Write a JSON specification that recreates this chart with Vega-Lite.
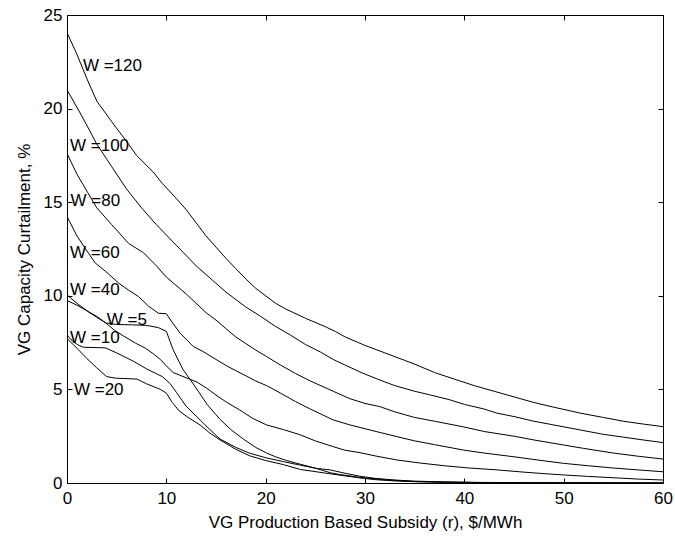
{
  "$schema": "https://vega.github.io/schema/vega-lite/v6.json",
  "width": 596,
  "height": 468,
  "autosize": {"type": "none"},
  "padding": {"left": 67, "top": 15, "right": 12, "bottom": 57},
  "background": "white",
  "config": {
    "view": {"stroke": "black", "strokeWidth": 1},
    "font": "Liberation Sans",
    "axis": {
      "grid": false,
      "domainColor": "black",
      "tickColor": "black",
      "labelColor": "black",
      "titleColor": "black",
      "labelFont": "Liberation Sans",
      "titleFont": "Liberation Sans",
      "labelFontSize": 17,
      "titleFontSize": 17,
      "titleFontWeight": "normal",
      "labelFlush": false,
      "tickSize": -5
    }
  },
  "datasets": {
    "curves": [
      {"W": "120", "x": 0, "y": 24.06}, {"W": "120", "x": 1, "y": 22.9}, {"W": "120", "x": 2, "y": 21.6}, {"W": "120", "x": 3, "y": 20.4}, {"W": "120", "x": 4.5, "y": 19.3}, {"W": "120", "x": 6.2, "y": 18.1}, {"W": "120", "x": 7, "y": 17.5}, {"W": "120", "x": 8.7, "y": 16.6}, {"W": "120", "x": 9.6, "y": 16.0}, {"W": "120", "x": 11, "y": 15.2}, {"W": "120", "x": 12, "y": 14.6}, {"W": "120", "x": 13, "y": 13.9}, {"W": "120", "x": 14, "y": 13.2}, {"W": "120", "x": 15, "y": 12.6}, {"W": "120", "x": 16, "y": 12.0}, {"W": "120", "x": 17, "y": 11.45}, {"W": "120", "x": 18, "y": 10.9}, {"W": "120", "x": 19, "y": 10.4}, {"W": "120", "x": 20, "y": 10.0}, {"W": "120", "x": 21, "y": 9.6}, {"W": "120", "x": 22, "y": 9.3}, {"W": "120", "x": 24, "y": 8.8}, {"W": "120", "x": 26, "y": 8.35}, {"W": "120", "x": 27, "y": 8.1}, {"W": "120", "x": 28, "y": 7.8}, {"W": "120", "x": 30, "y": 7.35}, {"W": "120", "x": 32, "y": 6.95}, {"W": "120", "x": 34, "y": 6.55}, {"W": "120", "x": 35, "y": 6.35}, {"W": "120", "x": 37, "y": 5.9}, {"W": "120", "x": 39, "y": 5.55}, {"W": "120", "x": 41, "y": 5.2}, {"W": "120", "x": 43, "y": 4.9}, {"W": "120", "x": 45, "y": 4.6}, {"W": "120", "x": 47, "y": 4.3}, {"W": "120", "x": 49, "y": 4.05}, {"W": "120", "x": 51.7, "y": 3.73}, {"W": "120", "x": 54, "y": 3.5}, {"W": "120", "x": 56, "y": 3.3}, {"W": "120", "x": 58, "y": 3.15}, {"W": "120", "x": 60, "y": 3.01},
      {"W": "100", "x": 0, "y": 21.0}, {"W": "100", "x": 1.5, "y": 19.6}, {"W": "100", "x": 3, "y": 18.1}, {"W": "100", "x": 4.5, "y": 16.9}, {"W": "100", "x": 6, "y": 15.7}, {"W": "100", "x": 7.5, "y": 14.7}, {"W": "100", "x": 9, "y": 13.8}, {"W": "100", "x": 11, "y": 12.7}, {"W": "100", "x": 13, "y": 11.6}, {"W": "100", "x": 14.5, "y": 10.9}, {"W": "100", "x": 16, "y": 10.2}, {"W": "100", "x": 18, "y": 9.4}, {"W": "100", "x": 19.5, "y": 8.9}, {"W": "100", "x": 21, "y": 8.36}, {"W": "100", "x": 22.5, "y": 7.9}, {"W": "100", "x": 24, "y": 7.4}, {"W": "100", "x": 25.5, "y": 7.0}, {"W": "100", "x": 26.8, "y": 6.6}, {"W": "100", "x": 28, "y": 6.3}, {"W": "100", "x": 29.8, "y": 5.86}, {"W": "100", "x": 31.5, "y": 5.5}, {"W": "100", "x": 33, "y": 5.2}, {"W": "100", "x": 35, "y": 4.9}, {"W": "100", "x": 36.6, "y": 4.7}, {"W": "100", "x": 38.5, "y": 4.45}, {"W": "100", "x": 40, "y": 4.2}, {"W": "100", "x": 42, "y": 3.95}, {"W": "100", "x": 43.3, "y": 3.73}, {"W": "100", "x": 45, "y": 3.55}, {"W": "100", "x": 47, "y": 3.3}, {"W": "100", "x": 49, "y": 3.1}, {"W": "100", "x": 51.7, "y": 2.83}, {"W": "100", "x": 54, "y": 2.6}, {"W": "100", "x": 56, "y": 2.45}, {"W": "100", "x": 58, "y": 2.3}, {"W": "100", "x": 60, "y": 2.16},
      {"W": "80", "x": 0, "y": 17.6}, {"W": "80", "x": 1, "y": 16.5}, {"W": "80", "x": 2.1, "y": 15.5}, {"W": "80", "x": 3, "y": 14.7}, {"W": "80", "x": 4.5, "y": 13.8}, {"W": "80", "x": 6.2, "y": 12.8}, {"W": "80", "x": 7.7, "y": 12.3}, {"W": "80", "x": 9, "y": 11.6}, {"W": "80", "x": 10, "y": 11.0}, {"W": "80", "x": 12, "y": 10.1}, {"W": "80", "x": 13, "y": 9.6}, {"W": "80", "x": 14, "y": 9.1}, {"W": "80", "x": 15, "y": 8.7}, {"W": "80", "x": 16.1, "y": 8.2}, {"W": "80", "x": 17, "y": 7.8}, {"W": "80", "x": 18, "y": 7.45}, {"W": "80", "x": 19, "y": 7.1}, {"W": "80", "x": 20.1, "y": 6.75}, {"W": "80", "x": 21.5, "y": 6.3}, {"W": "80", "x": 23, "y": 5.85}, {"W": "80", "x": 24.5, "y": 5.45}, {"W": "80", "x": 26.8, "y": 4.9}, {"W": "80", "x": 28.5, "y": 4.5}, {"W": "80", "x": 30, "y": 4.25}, {"W": "80", "x": 31.5, "y": 4.08}, {"W": "80", "x": 33, "y": 3.8}, {"W": "80", "x": 35, "y": 3.5}, {"W": "80", "x": 37, "y": 3.3}, {"W": "80", "x": 39.9, "y": 3.0}, {"W": "80", "x": 42, "y": 2.75}, {"W": "80", "x": 45, "y": 2.5}, {"W": "80", "x": 47, "y": 2.3}, {"W": "80", "x": 50, "y": 2.03}, {"W": "80", "x": 52, "y": 1.85}, {"W": "80", "x": 55, "y": 1.6}, {"W": "80", "x": 57.5, "y": 1.43}, {"W": "80", "x": 60, "y": 1.28},
      {"W": "60", "x": 0, "y": 14.24}, {"W": "60", "x": 1, "y": 13.2}, {"W": "60", "x": 2, "y": 12.4}, {"W": "60", "x": 2.85, "y": 11.75}, {"W": "60", "x": 3.9, "y": 11.3}, {"W": "60", "x": 5.2, "y": 10.68}, {"W": "60", "x": 6.2, "y": 10.3}, {"W": "60", "x": 7.2, "y": 9.96}, {"W": "60", "x": 8.2, "y": 9.45}, {"W": "60", "x": 9.2, "y": 9.07}, {"W": "60", "x": 10, "y": 9.04}, {"W": "60", "x": 10.7, "y": 8.5}, {"W": "60", "x": 11.4, "y": 8.0}, {"W": "60", "x": 12.7, "y": 7.3}, {"W": "60", "x": 13.7, "y": 7.02}, {"W": "60", "x": 15, "y": 6.6}, {"W": "60", "x": 16.1, "y": 6.25}, {"W": "60", "x": 17, "y": 6.0}, {"W": "60", "x": 18.1, "y": 5.7}, {"W": "60", "x": 19, "y": 5.45}, {"W": "60", "x": 20.1, "y": 5.2}, {"W": "60", "x": 21.5, "y": 4.8}, {"W": "60", "x": 23, "y": 4.35}, {"W": "60", "x": 24.5, "y": 3.95}, {"W": "60", "x": 26.8, "y": 3.37}, {"W": "60", "x": 28.5, "y": 3.1}, {"W": "60", "x": 30, "y": 2.9}, {"W": "60", "x": 31.5, "y": 2.7}, {"W": "60", "x": 33.2, "y": 2.48}, {"W": "60", "x": 35, "y": 2.25}, {"W": "60", "x": 37, "y": 2.05}, {"W": "60", "x": 39.9, "y": 1.76}, {"W": "60", "x": 42, "y": 1.6}, {"W": "60", "x": 45, "y": 1.4}, {"W": "60", "x": 47.5, "y": 1.22}, {"W": "60", "x": 50, "y": 1.05}, {"W": "60", "x": 52.5, "y": 0.92}, {"W": "60", "x": 55, "y": 0.8}, {"W": "60", "x": 57.5, "y": 0.7}, {"W": "60", "x": 60, "y": 0.6},
      {"W": "40", "x": 0, "y": 10.05}, {"W": "40", "x": 1, "y": 9.6}, {"W": "40", "x": 2, "y": 9.2}, {"W": "40", "x": 3, "y": 8.85}, {"W": "40", "x": 3.9, "y": 8.55}, {"W": "40", "x": 4.8, "y": 8.15}, {"W": "40", "x": 5.7, "y": 7.85}, {"W": "40", "x": 6.9, "y": 7.47}, {"W": "40", "x": 7.9, "y": 7.2}, {"W": "40", "x": 8.7, "y": 6.9}, {"W": "40", "x": 9.4, "y": 6.6}, {"W": "40", "x": 10.1, "y": 6.2}, {"W": "40", "x": 10.7, "y": 5.9}, {"W": "40", "x": 12, "y": 5.62}, {"W": "40", "x": 13.06, "y": 5.4}, {"W": "40", "x": 14.1, "y": 5.05}, {"W": "40", "x": 15, "y": 4.7}, {"W": "40", "x": 16.1, "y": 4.3}, {"W": "40", "x": 17.4, "y": 3.9}, {"W": "40", "x": 18.7, "y": 3.45}, {"W": "40", "x": 20.1, "y": 3.1}, {"W": "40", "x": 21.8, "y": 2.85}, {"W": "40", "x": 23.5, "y": 2.57}, {"W": "40", "x": 25, "y": 2.25}, {"W": "40", "x": 26.8, "y": 1.94}, {"W": "40", "x": 28, "y": 1.75}, {"W": "40", "x": 29.5, "y": 1.62}, {"W": "40", "x": 31, "y": 1.45}, {"W": "40", "x": 33.2, "y": 1.23}, {"W": "40", "x": 35.5, "y": 1.07}, {"W": "40", "x": 38, "y": 0.92}, {"W": "40", "x": 40.5, "y": 0.8}, {"W": "40", "x": 43.3, "y": 0.7}, {"W": "40", "x": 46, "y": 0.58}, {"W": "40", "x": 48, "y": 0.5}, {"W": "40", "x": 50, "y": 0.43}, {"W": "40", "x": 52.5, "y": 0.35}, {"W": "40", "x": 55, "y": 0.28}, {"W": "40", "x": 57.5, "y": 0.21}, {"W": "40", "x": 60, "y": 0.16},
      {"W": "5", "x": 0, "y": 9.75}, {"W": "5", "x": 1, "y": 9.5}, {"W": "5", "x": 2, "y": 9.2}, {"W": "5", "x": 3, "y": 8.9}, {"W": "5", "x": 3.9, "y": 8.55}, {"W": "5", "x": 5, "y": 8.47}, {"W": "5", "x": 6.5, "y": 8.45}, {"W": "5", "x": 8, "y": 8.42}, {"W": "5", "x": 9.2, "y": 8.3}, {"W": "5", "x": 10, "y": 8.1}, {"W": "5", "x": 10.7, "y": 7.1}, {"W": "5", "x": 11.7, "y": 6.04}, {"W": "5", "x": 12.9, "y": 5.15}, {"W": "5", "x": 14.1, "y": 4.2}, {"W": "5", "x": 15.4, "y": 3.4}, {"W": "5", "x": 16.5, "y": 2.85}, {"W": "5", "x": 17.75, "y": 2.35}, {"W": "5", "x": 19, "y": 1.9}, {"W": "5", "x": 20.1, "y": 1.6}, {"W": "5", "x": 21, "y": 1.4}, {"W": "5", "x": 22.1, "y": 1.2}, {"W": "5", "x": 23.5, "y": 1.0}, {"W": "5", "x": 25.1, "y": 0.78}, {"W": "5", "x": 26.5, "y": 0.55}, {"W": "5", "x": 27.5, "y": 0.45}, {"W": "5", "x": 29.5, "y": 0.3}, {"W": "5", "x": 32, "y": 0.17}, {"W": "5", "x": 35, "y": 0.08}, {"W": "5", "x": 38, "y": 0.04}, {"W": "5", "x": 42, "y": 0.02}, {"W": "5", "x": 50, "y": 0.01}, {"W": "5", "x": 60, "y": 0.0},
      {"W": "10", "x": 0, "y": 7.9}, {"W": "10", "x": 0.6, "y": 7.55}, {"W": "10", "x": 1.2, "y": 7.35}, {"W": "10", "x": 1.7, "y": 7.25}, {"W": "10", "x": 3.85, "y": 7.22}, {"W": "10", "x": 5, "y": 6.95}, {"W": "10", "x": 6.7, "y": 6.5}, {"W": "10", "x": 8, "y": 6.1}, {"W": "10", "x": 9.6, "y": 5.68}, {"W": "10", "x": 10.4, "y": 5.3}, {"W": "10", "x": 11, "y": 4.85}, {"W": "10", "x": 12, "y": 4.1}, {"W": "10", "x": 13.4, "y": 3.37}, {"W": "10", "x": 14.1, "y": 3.0}, {"W": "10", "x": 15.4, "y": 2.35}, {"W": "10", "x": 17, "y": 1.9}, {"W": "10", "x": 18.4, "y": 1.59}, {"W": "10", "x": 20, "y": 1.35}, {"W": "10", "x": 21.8, "y": 1.14}, {"W": "10", "x": 23.5, "y": 0.95}, {"W": "10", "x": 25.1, "y": 0.78}, {"W": "10", "x": 26.5, "y": 0.7}, {"W": "10", "x": 28, "y": 0.52}, {"W": "10", "x": 29.5, "y": 0.36}, {"W": "10", "x": 31, "y": 0.25}, {"W": "10", "x": 33, "y": 0.16}, {"W": "10", "x": 35, "y": 0.1}, {"W": "10", "x": 38, "y": 0.06}, {"W": "10", "x": 42, "y": 0.03}, {"W": "10", "x": 50, "y": 0.01}, {"W": "10", "x": 60, "y": 0.0},
      {"W": "20", "x": 0, "y": 7.72}, {"W": "20", "x": 1, "y": 7.2}, {"W": "20", "x": 2, "y": 6.65}, {"W": "20", "x": 3, "y": 6.15}, {"W": "20", "x": 4, "y": 5.68}, {"W": "20", "x": 4.9, "y": 5.6}, {"W": "20", "x": 7.05, "y": 5.55}, {"W": "20", "x": 8, "y": 5.3}, {"W": "20", "x": 9.4, "y": 5.0}, {"W": "20", "x": 10, "y": 4.8}, {"W": "20", "x": 10.6, "y": 4.3}, {"W": "20", "x": 11.3, "y": 3.85}, {"W": "20", "x": 12.2, "y": 3.5}, {"W": "20", "x": 13.4, "y": 3.1}, {"W": "20", "x": 14.3, "y": 2.7}, {"W": "20", "x": 15.4, "y": 2.3}, {"W": "20", "x": 17, "y": 1.8}, {"W": "20", "x": 18.4, "y": 1.45}, {"W": "20", "x": 20, "y": 1.2}, {"W": "20", "x": 21.8, "y": 0.98}, {"W": "20", "x": 23.5, "y": 0.72}, {"W": "20", "x": 25.1, "y": 0.6}, {"W": "20", "x": 26.5, "y": 0.49}, {"W": "20", "x": 28, "y": 0.38}, {"W": "20", "x": 29.5, "y": 0.27}, {"W": "20", "x": 31, "y": 0.18}, {"W": "20", "x": 33, "y": 0.11}, {"W": "20", "x": 35, "y": 0.07}, {"W": "20", "x": 38, "y": 0.04}, {"W": "20", "x": 42, "y": 0.02}, {"W": "20", "x": 50, "y": 0.01}, {"W": "20", "x": 60, "y": 0.0}
    ],
    "labels": [
      {"label": "W =120", "x": 1.6, "y": 22.26},
      {"label": "W =100", "x": 0.3, "y": 17.98},
      {"label": "W =80", "x": 0.35, "y": 15.04},
      {"label": "W =60", "x": 0.3, "y": 12.3},
      {"label": "W =40", "x": 0.3, "y": 10.32},
      {"label": "W =5", "x": 4.0, "y": 8.72},
      {"label": "W =10", "x": 0.3, "y": 7.75},
      {"label": "W =20", "x": 0.7, "y": 4.97}
    ]
  },
  "layer": [
    {
      "data": {"name": "curves"},
      "mark": {"type": "line", "color": "black", "strokeWidth": 1, "clip": true},
      "encoding": {
        "x": {"field": "x", "type": "quantitative", "scale": {"domain": [0, 60], "nice": false},
              "axis": {"values": [0, 10, 20, 30, 40, 50, 60], "title": "VG Production Based Subsidy (r), $/MWh", "labelPadding": 12, "titlePadding": 8}},
        "y": {"field": "y", "type": "quantitative", "scale": {"domain": [0, 25], "nice": false},
              "axis": {"values": [0, 5, 10, 15, 20, 25], "title": "VG Capacity Curtailment, %", "labelPadding": 10, "titlePadding": 10}},
        "detail": {"field": "W"}
      }
    },
    {
      "data": {"name": "labels"},
      "mark": {"type": "text", "align": "left", "baseline": "middle", "fontSize": 17, "font": "Liberation Sans", "color": "black"},
      "encoding": {
        "x": {"field": "x", "type": "quantitative", "axis": {"orient": "top", "values": [0, 10, 20, 30, 40, 50, 60], "labels": false, "title": null, "domain": false}},
        "y": {"field": "y", "type": "quantitative", "axis": {"orient": "right", "values": [0, 5, 10, 15, 20, 25], "labels": false, "title": null, "domain": false}},
        "text": {"field": "label"}
      }
    }
  ],
  "resolve": {"axis": {"x": "independent", "y": "independent"}}
}
